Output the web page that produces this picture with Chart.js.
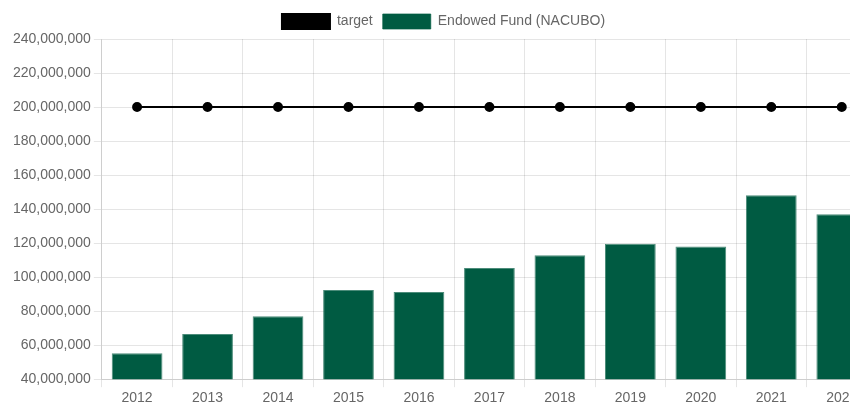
<!DOCTYPE html>
<html>
<head>
<meta charset="utf-8">
<script src="https://cdn.jsdelivr.net/npm/chart.js@4"></script>
<style>
  html, body { margin: 0; padding: 0; overflow: hidden; background: #fff; }
  .chart-box { width: 884px; height: 410px; }
</style>
</head>
<body>
<div class="chart-box">
  <canvas id="endowment"></canvas>
</div>
<script>
const years = ['2012', '2013', '2014', '2015', '2016', '2017', '2018', '2019', '2020', '2021', '2022']
const target = [200000000, 200000000, 200000000, 200000000, 200000000, 200000000, 200000000, 200000000, 200000000, 200000000, 200000000]
const endowedFund = [55300000, 66500000, 77000000, 92400000, 91200000, 105300000, 112900000, 119600000, 118000000, 148200000, 137000000]

Chart.defaults.font.family = "'Liberation Sans', Arial, Helvetica, sans-serif"
Chart.defaults.color = '#666'

const ctx = document.getElementById('endowment').getContext('2d')
new Chart(ctx, {
    type: 'bar',
    data: {
        labels: years,
        datasets: [
            {
                type: 'line',
                label: 'target',
                data: target,
                borderColor: '#000',
                backgroundColor: '#000',
                borderWidth: 2,
                pointRadius: 4,
                pointBackgroundColor: '#000',
                fill: false
            },
            {
                label: 'Endowed Fund (NACUBO)',
                data: endowedFund,
                backgroundColor: '#005b42',
                borderColor: 'rgba(0,91,66,0.7)',
                borderWidth: 1
            }
        ]
    },
    options: {
        responsive: true,
        maintainAspectRatio: false,
        animation: false,
        layout: { padding: { left: 10, right: 7, top: 4 } },
        plugins: {
            legend: {
                display: true,
                labels: {
                    boxWidth: 48,
                    boxHeight: 15,
                    font: { size: 14 },
                    color: '#666'
                }
            },
            tooltip: { enabled: false }
        },
        scales: {
            x: {
                ticks: { font: { size: 14 } }
            },
            y: {
                min: 40000000,
                max: 240000000,
                ticks: {
                    stepSize: 20000000,
                    font: { size: 14 },
                    callback: (v) => v.toLocaleString('en-US')
                }
            }
        }
    }
})
</script>
</body>
</html>
